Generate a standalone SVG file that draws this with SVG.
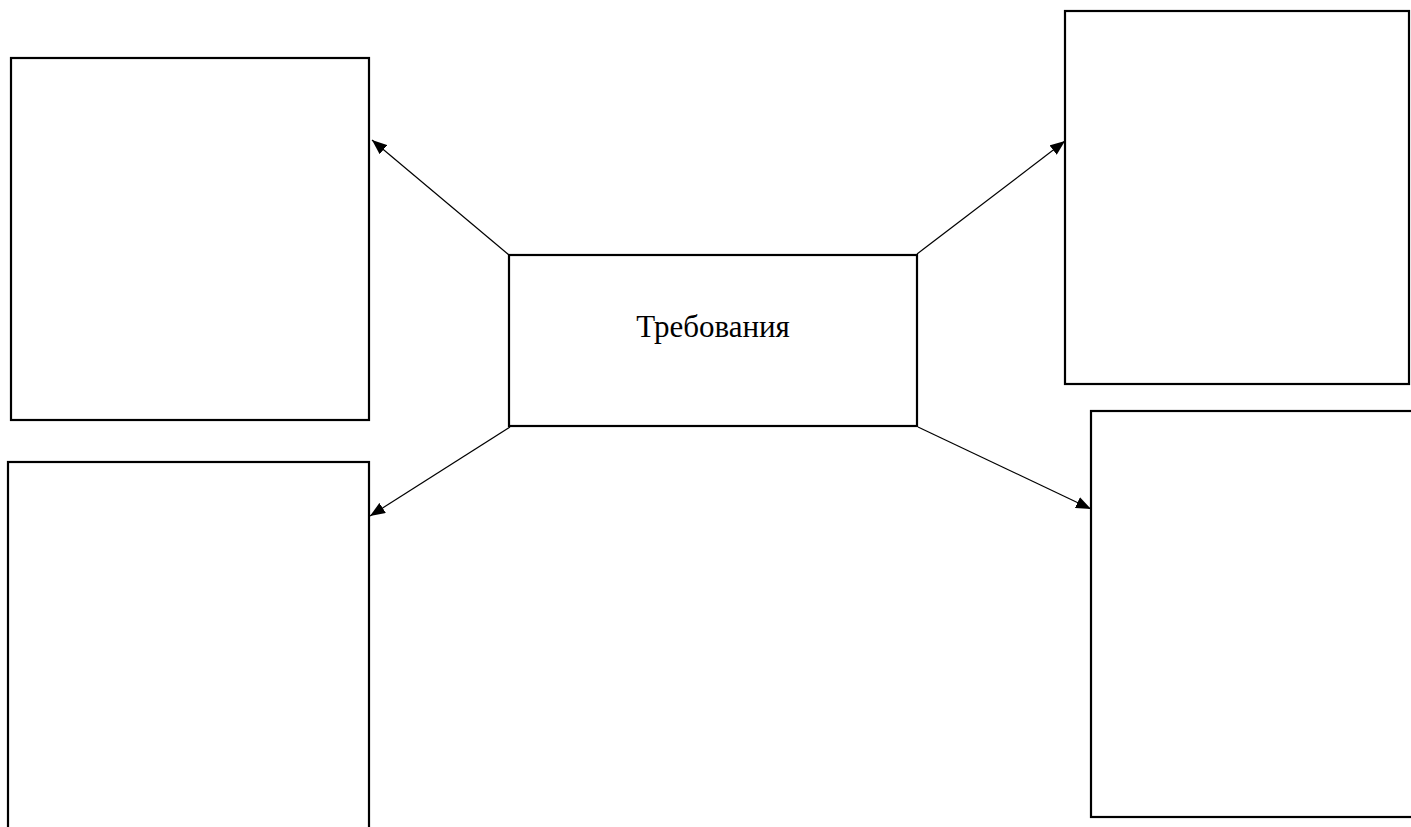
<svg xmlns="http://www.w3.org/2000/svg" width="1411" height="827" viewBox="0 0 1411 827">
  <style>
    .box { fill: #ffffff; stroke: #000000; stroke-width: 2.2; }
    .conn { stroke: #000000; stroke-width: 1.2; fill: none; marker-end: url(#arrow); }
    .label { font-family: "Liberation Serif", "Times New Roman", serif; font-size: 31px; fill: #000000; }
  </style>
  <defs>
    <marker id="arrow" markerUnits="userSpaceOnUse" markerWidth="16" markerHeight="12" refX="15" refY="6" orient="auto">
      <path d="M0,0 L15,6 L0,12 Z" fill="#000000"/>
    </marker>
  </defs>
  <rect width="1411" height="827" fill="#ffffff"/>
  <g id="connectors">
    <line class="conn" x1="509" y1="255" x2="372" y2="140"/>
    <line class="conn" x1="917" y1="254" x2="1065" y2="141"/>
    <line class="conn" x1="510" y1="427" x2="370" y2="516"/>
    <line class="conn" x1="918" y1="427" x2="1091" y2="509"/>
  </g>
  <g id="node-top-left">
    <rect class="box" x="11" y="58" width="358" height="362"/>
  </g>
  <g id="node-bottom-left">
    <rect class="box" x="8" y="462" width="361" height="400"/>
  </g>
  <g id="node-top-right">
    <rect class="box" x="1065" y="11" width="344" height="373"/>
  </g>
  <g id="node-bottom-right">
    <rect class="box" x="1091" y="411" width="360" height="406"/>
  </g>
  <g id="node-center">
    <rect class="box" x="509" y="255" width="408" height="171"/>
    <text class="label" x="713" y="337" text-anchor="middle">Требования</text>
  </g>
</svg>
